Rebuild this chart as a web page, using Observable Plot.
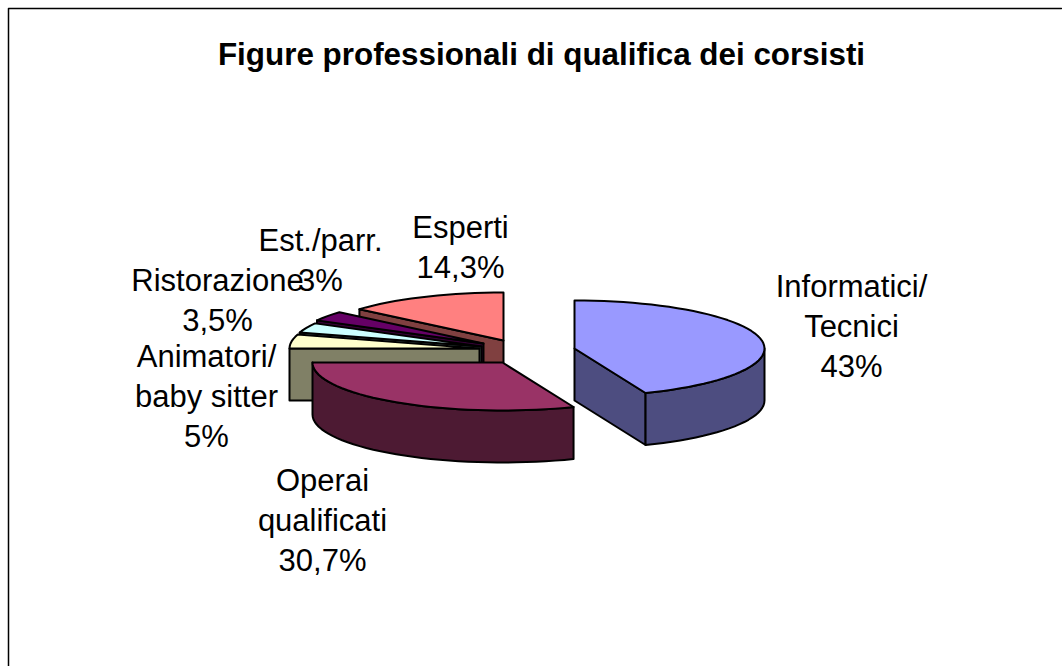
<!DOCTYPE html>
<html>
<head>
<meta charset="utf-8">
<style>html,body{margin:0;padding:0;background:#fff}svg{display:block}</style>
<script src="https://cdn.jsdelivr.net/npm/d3@7"></script>
<script src="https://cdn.jsdelivr.net/npm/@observablehq/plot@0.6"></script>
</head>
<body>
<div id="chart"></div>
<script>
const chartTitle = "Figure professionali di qualifica dei corsisti";
const categories = ["Informatici/\nTecnici", "Operai\nqualificati", "Animatori/\nbaby sitter", "Ristorazione", "Est./parr.", "Esperti"];
const labelShares = ["43%", "30,7%", "5%", "3,5%", "3%", "14,3%"];
// share of the full turn as the slices are actually drawn in the picture
const drawnShares = [43.9, 31.1, 4.7, 3.3, 3.3, 13.7];
const topColors = ["#9999ff", "#993366", "#ffffcc", "#ccffff", "#660066", "#ff8080"];
const sideColors = ["#4d4d80", "#4d1a33", "#808066", "#668080", "#330033", "#804040"];
// exploded position of each slice's tip on the chart plane
const tipX = [574, 502, 479, 481, 483, 503];
const tipY = [348, 362, 348, 346, 343, 340];
const labelX = [851, 322, 206, 217, 320, 460];
const labelY = [324, 518, 394, 298, 258, 245];
const paintOrder = [5, 4, 3, 2, 1, 0];

const radiusX = 190, radiusY = 48, depth = 52;

let turn = 0;
const starts = drawnShares.map(s => { const a = turn; turn += s * 3.6; return a; });

function rim(i, from, to, drop) {
  const pts = [];
  const n = Math.max(2, Math.ceil(Math.abs(to - from) / 3));
  for (let k = 0; k <= n; k++) {
    const t = (from + (to - from) * k / n) * Math.PI / 180;
    pts.push([tipX[i] + radiusX * Math.sin(t), tipY[i] - radiusY * Math.cos(t) + drop]);
  }
  return pts;
}

const faces = [];
function addFace(points, fill) {
  const id = faces.length;
  faces.push({id, fill, points: [...points, points[0]].map(([x, y]) => ({x, y}))});
}
for (const i of paintOrder) {
  const a0 = starts[i], a1 = a0 + drawnShares[i] * 3.6;
  const tip = [tipX[i], tipY[i]], tipLow = [tipX[i], tipY[i] + depth];
  const s0 = rim(i, a0, a0, 0)[0], s1 = rim(i, a1, a1, 0)[0];
  // cut walls that face the viewer
  if (a0 >= 269) addFace([tip, s0, [s0[0], s0[1] + depth], tipLow], sideColors[i]);
  if (a1 < 180) addFace([tip, s1, [s1[0], s1[1] + depth], tipLow], sideColors[i]);
  // outer wall, front half of the rim only
  const w0 = Math.max(a0, 90), w1 = Math.min(a1, 270);
  if (w1 > w0) addFace([...rim(i, w0, w1, 0), ...rim(i, w1, w0, depth)], sideColors[i]);
  // top
  addFace([tip, ...rim(i, a0, a1, 0)], topColors[i]);
}

const labels = categories.map((c, i) => ({text: c + "\n" + labelShares[i], x: labelX[i], y: labelY[i]}));
const frame = [{x: 1061, y: 8}, {x: 8, y: 8}, {x: 8, y: 666}];

const chart = Plot.plot({
  width: 1062, height: 666,
  margin: 0,
  x: {domain: [0, 1062], range: [0, 1062], axis: null},
  y: {domain: [0, 666], range: [0, 666], axis: null},
  style: {background: "#fff"},
  marks: [
    Plot.line(frame, {x: "x", y: "y", stroke: "#000", strokeWidth: 1.5, curve: "linear"}),
    ...faces.map(f => Plot.line(f.points, {x: "x", y: "y", fill: f.fill, stroke: "#000", strokeWidth: 2, strokeLinejoin: "round", curve: "linear"})),
    Plot.text(labels, {x: "x", y: "y", text: "text", fontFamily: "Liberation Sans", fontSize: 31, lineHeight: 1.29, fill: "#000", textAnchor: "middle"}),
    Plot.text([chartTitle], {x: () => 541, y: () => 54, text: d => d, fontFamily: "Liberation Sans", fontSize: 31.4, fontWeight: "bold", fill: "#000", textAnchor: "middle"})
  ]
});
document.getElementById("chart").appendChild(chart);
</script>
</body>
</html>
